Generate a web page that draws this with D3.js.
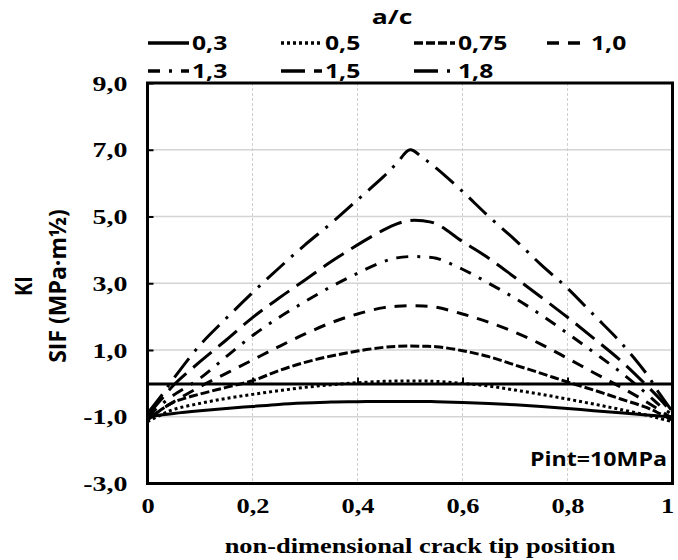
<!DOCTYPE html>
<html>
<head>
<meta charset="utf-8">
<script src="https://cdn.jsdelivr.net/npm/d3@7"></script>
<style>
  body { margin: 0; background: #fff; }
  svg { display: block; }
</style>
</head>
<body>
<svg id="chart" width="678" height="560"></svg>
<script>
// Crack-front positions (non-dimensional) at which KI was evaluated
const positions = [0, 0.025, 0.05, 0.1, 0.15, 0.2, 0.25, 0.3, 0.35, 0.4, 0.45, 0.475, 0.5,
                   0.525, 0.55, 0.6, 0.65, 0.7, 0.75, 0.8, 0.85, 0.9, 0.95, 0.975, 1];

// a/c ratios shown in the legend
const ratioLabels = ["0,3", "0,5", "0,75", "1,0", "1,3", "1,5", "1,8"];

// KI (MPa·m½) along the crack front for each a/c ratio
const kiAc03 = [-1.0, -0.95, -0.9, -0.82, -0.75, -0.69, -0.63, -0.59, -0.56, -0.55, -0.54, -0.54, -0.54,
                -0.54, -0.55, -0.57, -0.6, -0.64, -0.69, -0.75, -0.82, -0.88, -0.95, -0.98, -1.0];
const kiAc05 = [-1.15, -0.95, -0.78, -0.6, -0.45, -0.33, -0.22, -0.12, -0.04, 0.02, 0.06, 0.07, 0.07,
                0.07, 0.06, 0.0, -0.08, -0.2, -0.33, -0.47, -0.62, -0.78, -0.95, -1.05, -1.15];
const kiAc075 = [-1.1, -0.8, -0.56, -0.32, -0.12, 0.08, 0.38, 0.63, 0.82, 0.97, 1.08, 1.11, 1.12,
                 1.11, 1.1, 0.98, 0.8, 0.55, 0.3, 0.04, -0.2, -0.46, -0.72, -0.9, -1.1];
const kiAc10 = [-1.05, -0.8, -0.55, -0.1, 0.3, 0.7, 1.1, 1.48, 1.82, 2.08, 2.27, 2.31, 2.33,
                2.32, 2.28, 2.08, 1.83, 1.53, 1.17, 0.75, 0.32, -0.1, -0.55, -0.8, -1.05];
const kiAc13 = [-1.0, -0.65, -0.35, 0.15, 0.8, 1.43, 1.97, 2.45, 2.9, 3.3, 3.65, 3.76, 3.8,
                3.79, 3.75, 3.42, 3.0, 2.55, 2.05, 1.5, 0.93, 0.35, -0.3, -0.65, -0.95];
const kiAc15 = [-0.95, -0.5, -0.05, 0.65, 1.3, 1.97, 2.55, 3.1, 3.65, 4.15, 4.6, 4.78, 4.88,
                4.87, 4.78, 4.25, 3.75, 3.17, 2.58, 1.98, 1.35, 0.7, -0.05, -0.45, -0.9];
const kiAc18 = [-0.9, -0.4, 0.15, 1.15, 1.95, 2.72, 3.45, 4.15, 4.8, 5.5, 6.2, 6.6, 7.0,
                6.75, 6.45, 5.75, 5.0, 4.3, 3.55, 2.85, 2.05, 1.25, 0.3, -0.3, -0.85];

// Axis ticks and labels
const yTicks = [-3, -1, 1, 3, 5, 7, 9];
const yTickLabels = ["-3,0", "-1,0", "1,0", "3,0", "5,0", "7,0", "9,0"];
const xTicks = [0, 0.2, 0.4, 0.6, 0.8, 1];
const xTickLabels = ["0", "0,2", "0,4", "0,6", "0,8", "1"];

const legendTitle = "a/c";
const xTitle = "non-dimensional crack tip position";
const yTitleTop = "KI";
const yTitleBottom = "SIF (MPa·m½)";
const noteText = "Pint=10MPa";

// ---- styling / layout ----
const SANS = "'Open Sans', 'DejaVu Sans', sans-serif";
const SERIF = "'Liberation Serif', 'Times New Roman', serif";
const LINE_W = 3;
const dashStyles = ["", "3,3", "9,3", "12,9", "12,9,3,9", "24,9", "24,9,3,9"];

const allValues = [kiAc03, kiAc05, kiAc075, kiAc10, kiAc13, kiAc15, kiAc18];
const series = ratioLabels.map((label, i) => ({ label, values: allValues[i], dash: dashStyles[i] }));

const plot = { left: 147.5, right: 672.5, top: 83, bottom: 483.5 };
const W = 678;

const svg = d3.select("#chart");
const x = d3.scaleLinear().domain([0, 1]).range([plot.left, plot.right]);
const y = d3.scaleLinear().domain([-3, 9]).range([plot.bottom, plot.top]);

// stretch a text node horizontally about its anchor point
function widen(sel, sx) {
  sel.each(function () {
    const t = d3.select(this);
    const tx = +t.attr("x") || 0, ty = +t.attr("y") || 0;
    const prev = t.attr("transform") || "";
    t.attr("x", 0).attr("y", 0)
     .attr("transform", `${prev} translate(${tx},${ty}) scale(${sx},1)`);
  });
}

// gridlines
const grid = svg.append("g");
grid.selectAll("line.h").data(yTicks).join("line")
  .attr("x1", plot.left).attr("x2", plot.right)
  .attr("y1", d => y(d)).attr("y2", d => y(d))
  .attr("stroke", "#d4d4d4").attr("stroke-width", 1.5);
grid.selectAll("line.v").data(xTicks.slice(1, -1)).join("line")
  .attr("x1", d => x(d)).attr("x2", d => x(d))
  .attr("y1", plot.top).attr("y2", plot.bottom)
  .attr("stroke", "#cfcfcf").attr("stroke-width", 1).attr("stroke-dasharray", "3,2");

// series curves
const line = d3.line()
  .x((d, i) => x(positions[i]))
  .y(d => y(d))
  .curve(d3.curveCatmullRom);

svg.append("g").selectAll("path").data(series).join("path")
  .attr("d", d => line(d.values))
  .attr("fill", "none")
  .attr("stroke", "#000")
  .attr("stroke-width", LINE_W)
  .attr("stroke-dasharray", d => d.dash || null);

// zero line with inward ticks
const zeroAxis = svg.append("g")
  .attr("transform", `translate(0,${y(0)})`)
  .call(d3.axisTop(x).tickValues(xTicks).tickSizeInner(6).tickSizeOuter(0).tickFormat(""));
zeroAxis.select(".domain").attr("stroke", "#000").attr("stroke-width", LINE_W);
zeroAxis.selectAll(".tick line").attr("stroke", "#000").attr("stroke-width", 2);

// left axis: inward ticks, labels outside
const yAxis = svg.append("g")
  .attr("transform", `translate(${plot.left},0)`)
  .call(d3.axisLeft(y).tickValues(yTicks).tickSizeInner(-6).tickSizeOuter(0).tickPadding(20)
        .tickFormat((d, i) => yTickLabels[i]));
yAxis.select(".domain").remove();
yAxis.selectAll(".tick line").attr("stroke", "#000").attr("stroke-width", 2);
yAxis.selectAll("text")
  .attr("font-family", SERIF).attr("font-weight", "bold").attr("font-size", 22).attr("fill", "#000");
widen(yAxis.selectAll("text"), 1.27);

// bottom tick labels
const xAxis = svg.append("g")
  .attr("transform", `translate(0,${plot.bottom})`)
  .call(d3.axisBottom(x).tickValues(xTicks).tickSize(0).tickPadding(14)
        .tickFormat((d, i) => xTickLabels[i]));
xAxis.select(".domain").remove();
xAxis.selectAll("text")
  .attr("font-family", SERIF).attr("font-weight", "bold").attr("font-size", 22).attr("fill", "#000");
widen(xAxis.selectAll("text"), 1.2);
// keep the last label inside the canvas
xAxis.selectAll(".tick").each(function (d) {
  const right = x(d) + 8;
  if (right > W - 2) d3.select(this).select("text").attr("dx", (W - 2) - right);
});

// plot frame
svg.append("rect")
  .attr("x", plot.left).attr("y", plot.top)
  .attr("width", plot.right - plot.left).attr("height", plot.bottom - plot.top)
  .attr("fill", "none").attr("stroke", "#000").attr("stroke-width", LINE_W);

// axis titles
svg.append("text")
  .attr("x", 420).attr("y", 553)
  .attr("text-anchor", "middle")
  .attr("font-family", SERIF).attr("font-weight", "bold").attr("font-size", 22)
  .text(xTitle).call(widen, 1.2);

const yTitle = svg.append("g").attr("transform", "translate(0,286) rotate(-90)");
yTitle.append("text")
  .attr("x", 0).attr("y", 27)
  .attr("text-anchor", "middle")
  .attr("font-family", SANS).attr("font-weight", "bold").attr("font-size", 20)
  .attr("transform", "scale(1,1.2)")
  .text(yTitleTop);
yTitle.append("text")
  .attr("x", 0).attr("y", 55)
  .attr("text-anchor", "middle")
  .attr("font-family", SANS).attr("font-weight", "bold").attr("font-size", 20)
  .attr("transform", "scale(1.15,1.2)")
  .text(yTitleBottom);

// annotation
svg.append("text")
  .attr("x", 667).attr("y", 466)
  .attr("text-anchor", "end")
  .attr("font-family", SANS).attr("font-weight", "bold").attr("font-size", 19)
  .text(noteText).call(widen, 1.22);

// legend
const legend = svg.append("g");
legend.append("text")
  .attr("x", 392).attr("y", 24)
  .attr("text-anchor", "middle")
  .attr("font-family", SANS).attr("font-weight", "bold").attr("font-size", 19)
  .text(legendTitle).call(widen, 1.4);

const cols = 4, colW = 133, rowH = 28, sampleLen = 41;
const entry = legend.selectAll("g.entry").data(series).join("g")
  .attr("transform", (d, i) => `translate(${148 + (i % cols) * colW},${43 + Math.floor(i / cols) * rowH})`);
entry.append("line")
  .attr("x1", 0).attr("x2", sampleLen).attr("y1", 0).attr("y2", 0)
  .attr("stroke", "#000").attr("stroke-width", LINE_W + 0.5)
  .attr("stroke-dasharray", d => d.dash || null);
entry.append("text")
  .attr("x", sampleLen + 3).attr("y", 7)
  .attr("font-family", SANS).attr("font-weight", "bold").attr("font-size", 19)
  .text(d => d.label)
  .call(widen, 1.3);
</script>
</body>
</html>
